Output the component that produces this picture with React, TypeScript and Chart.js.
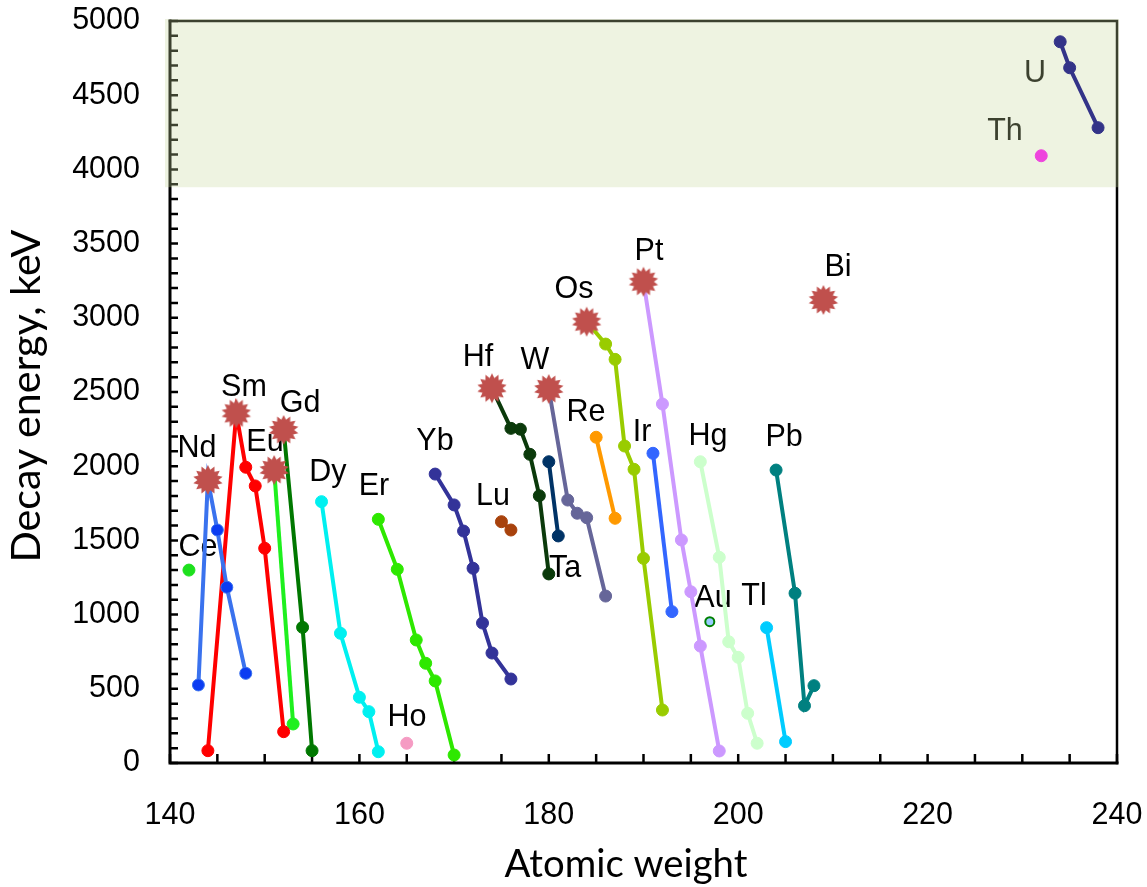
import React, { useEffect, useRef } from "react";
import { Chart, registerables } from "chart.js";

Chart.register(...registerables);

// ---- axis tick labels ----
const xTickValues = [140, 160, 180, 200, 220, 240];
const yTickValues = [0, 500, 1000, 1500, 2000, 2500, 3000, 3500, 4000, 4500, 5000];

// ---- series: [atomic weight, decay energy keV] ----
const ce = [[142, 1300]];
const nd = [[143, 526], [144, 1907], [145, 1570], [146, 1184], [148, 604]];
const sm = [[144, 83], [147, 2356], [148, 1993], [149, 1867], [150, 1447], [152, 211]];
const eu = [[151, 1974], [153, 263]];
const gd = [[152, 2244], [154, 914], [155, 83]];
const dy = [[156, 1761], [158, 874], [160, 443], [161, 346], [162, 76]];
const ho = [[165, 133]];
const er = [[162, 1642], [164, 1305], [166, 829], [167, 672], [168, 553], [170, 54]];
const yb = [[168, 1947], [170, 1739], [171, 1563], [172, 1312], [173, 943], [174, 741], [176, 566]];
const lu = [[175, 1626], [176, 1570]];
const hf = [[174, 2525], [176, 2255], [177, 2249], [178, 2080], [179, 1801], [180, 1274]];
const ta = [[180, 2030], [181, 1530]];
const w = [[180, 2520], [182, 1772], [183, 1683], [184, 1653], [186, 1125]];
const re = [[185, 2195], [187, 1649]];
const os = [[184, 2974], [186, 2823], [187, 2720], [188, 2136], [189, 1979], [190, 1379], [192, 357]];
const pt = [[190, 3243], [192, 2419], [194, 1503], [195, 1154], [196, 788], [198, 81]];
const ir = [[191, 2087], [193, 1020]];
const au = [[197, 952]];
const hg = [[196, 2030], [198, 1386], [199, 817], [200, 712], [201, 335], [202, 133]];
const tl = [[203, 912], [205, 144]];
const pb = [[204, 1974], [206, 1144], [207, 386], [208, 521]];
const th = [[232, 4092]];
const u = [[234, 4860], [235, 4685], [238, 4281]];

// highlighted isotopes (star markers)
const starPoints = [[144, 1907], [147, 2356], [151, 1974], [152, 2244], [174, 2525], [180, 2520], [184, 2974], [190, 3243], [209, 3120]];

// shaded band lower limit (keV)
const shadeFrom = 3880;

// ---- element labels ----
const labelNames = ["Ce", "Nd", "Sm", "Eu", "Gd", "Dy", "Er", "Ho", "Yb", "Lu", "Hf", "W", "Re", "Ta", "Os", "Pt", "Ir", "Hg", "Au", "Tl", "Pb", "Bi", "U", "Th"];
const labelMass = [142.96, 142.85, 147.81, 150.03, 153.73, 156.68, 161.54, 165.03, 167.98, 174.11, 172.52, 178.54, 183.93, 181.71, 182.66, 190.58, 189.84, 196.81, 197.34, 201.67, 204.84, 210.54, 231.34, 228.17];
const labelEnergy = [1456, 2123, 2534, 2163, 2426, 1961, 1867, 310, 2170, 1799, 2736, 2716, 2365, 1314, 3194, 3450, 2230, 2203, 1112, 1125, 2197, 3342, 4650, 4259];

const seriesList = [
  { name: "Ce", data: ce, color: "#1de01d" },
  { name: "Nd", data: nd, color: "#3a72ee", point: "#0b3cf2" },
  { name: "Sm", data: sm, color: "#ff0000" },
  { name: "Eu", data: eu, color: "#1ef01e" },
  { name: "Gd", data: gd, color: "#007800" },
  { name: "Dy", data: dy, color: "#00f0f0" },
  { name: "Ho", data: ho, color: "#f59bc3" },
  { name: "Er", data: er, color: "#2ee800" },
  { name: "Yb", data: yb, color: "#333399" },
  { name: "Lu", data: lu, color: "#a8420c" },
  { name: "Hf", data: hf, color: "#0b3a0b" },
  { name: "Ta", data: ta, color: "#003366" },
  { name: "W", data: w, color: "#666699" },
  { name: "Re", data: re, color: "#ff9900" },
  { name: "Os", data: os, color: "#99cc00" },
  { name: "Pt", data: pt, color: "#cc99ff" },
  { name: "Ir", data: ir, color: "#3366ff" },
  { name: "Au", data: au, color: "#008000", point: "#99ccff" },
  { name: "Hg", data: hg, color: "#ccffcc" },
  { name: "Tl", data: tl, color: "#00ccff" },
  { name: "Pb", data: pb, color: "#008080" },
  { name: "Th", data: th, color: "#ee44dd" },
  { name: "U", data: u, color: "#333388" },
];

function makeStar(): HTMLCanvasElement {
  const c = document.createElement("canvas");
  c.width = 32;
  c.height = 32;
  const g = c.getContext("2d")!;
  const n = 14;
  const ro = 15;
  const ri = 10.5;
  g.beginPath();
  for (let i = 0; i < n * 2; i++) {
    const r = i % 2 === 0 ? ro : ri;
    const a = (Math.PI * i) / n - Math.PI / 2;
    const px = 16 + r * Math.cos(a);
    const py = 16 + r * Math.sin(a);
    if (i === 0) g.moveTo(px, py);
    else g.lineTo(px, py);
  }
  g.closePath();
  g.fillStyle = "#c0504d";
  g.fill();
  return c;
}

const decorPlugin = {
  id: "decor",
  beforeDatasetsDraw(chart: any) {
    const { ctx, chartArea: a, scales } = chart;
    const xs = scales.x;
    const ys = scales.y;
    ctx.save();
    // frame
    ctx.strokeStyle = "#000";
    ctx.lineCap = "square";
    ctx.lineWidth = 3;
    ctx.beginPath();
    ctx.moveTo(a.left, a.top);
    ctx.lineTo(a.left, a.bottom);
    ctx.lineTo(a.right, a.bottom);
    ctx.stroke();
    ctx.lineWidth = 2.5;
    ctx.beginPath();
    ctx.moveTo(a.left, a.top);
    ctx.lineTo(a.right, a.top);
    ctx.lineTo(a.right, a.bottom);
    ctx.stroke();
    // inward ticks
    ctx.lineCap = "butt";
    ctx.lineWidth = 2.5;
    ctx.beginPath();
    for (let v = 0; v <= 5000; v += 100) {
      const py = ys.getPixelForValue(v);
      ctx.moveTo(a.left, py);
      ctx.lineTo(a.left + 8, py);
    }
    for (let m = 140; m <= 240; m += 5) {
      const px = xs.getPixelForValue(m);
      ctx.moveTo(px, a.bottom);
      ctx.lineTo(px, a.bottom - 9);
    }
    ctx.stroke();
    // element labels
    ctx.font = '30.5px "Liberation Sans", Arial, sans-serif';
    ctx.textAlign = "center";
    ctx.textBaseline = "middle";
    ctx.fillStyle = "#000";
    labelNames.forEach((t, i) => {
      ctx.fillText(t, xs.getPixelForValue(labelMass[i]), ys.getPixelForValue(labelEnergy[i]) + 1);
    });
    // shaded band
    const yb = ys.getPixelForValue(shadeFrom);
    ctx.fillStyle = "rgba(198,215,154,0.3)";
    ctx.fillRect(a.left - 5, a.top - 2, a.right - a.left + 7, yb - a.top + 2);
    // axis titles
    ctx.fillStyle = "#000";
    const yt = "Decay energy, keV";
    ctx.font = '40px Lato, "Open Sans", sans-serif';
    let wv = ctx.measureText(yt).width;
    const ySize = (40 * 333) / wv;
    ctx.font = `${ySize}px Lato, "Open Sans", sans-serif`;
    ctx.save();
    ctx.translate(40, 396);
    ctx.rotate(-Math.PI / 2);
    ctx.textAlign = "center";
    ctx.textBaseline = "alphabetic";
    ctx.fillText(yt, 0, 0);
    ctx.restore();
    const xt = "Atomic weight";
    ctx.font = '40px Lato, "Open Sans", sans-serif';
    wv = ctx.measureText(xt).width;
    const xSize = (40 * 243) / wv;
    ctx.font = `${xSize}px Lato, "Open Sans", sans-serif`;
    ctx.textAlign = "center";
    ctx.textBaseline = "alphabetic";
    ctx.fillText(xt, 626, 877);
    ctx.restore();
  },
};

function noOverhang(s: any) {
  s.paddingLeft = 0;
  s.paddingRight = 0;
  s.paddingTop = 0;
  s.paddingBottom = 0;
}

export default function App() {
  const ref = useRef<HTMLCanvasElement | null>(null);
  useEffect(() => {
    if (!ref.current) return;
    const star = makeStar();
    const datasets: any[] = [
      {
        label: "stars",
        data: starPoints.map(([x, y]) => ({ x, y })),
        showLine: false,
        pointStyle: star,
        pointRadius: 14,
        order: -1,
      },
    ];
    seriesList.forEach((s: any) => {
      datasets.push({
        label: s.name,
        data: s.data.map(([x, y]: number[]) => ({ x, y })),
        showLine: true,
        borderColor: s.color,
        backgroundColor: s.point || s.color,
        borderWidth: 4,
        pointRadius: s.name === "Au" ? 4.5 : 6,
        pointBorderWidth: s.name === "Au" ? 2 : 1,
        pointBackgroundColor: s.point || s.color,
        pointBorderColor: s.color,
        tension: 0,
        order: 0,
      });
    });
    const tickFont = { family: '"Liberation Sans", Arial, sans-serif', size: 30.5 };
    const chart = new Chart(ref.current, {
      type: "scatter",
      data: { datasets },
      plugins: [decorPlugin],
      options: {
        animation: false,
        responsive: false,
        events: [],
        layout: { padding: { left: 0, right: 30, top: 21, bottom: 0 } },
        plugins: { legend: { display: false }, tooltip: { enabled: false } },
        scales: {
          x: {
            type: "linear",
            min: 140,
            max: 240,
            afterBuildTicks: (s: any) => {
              s.ticks = xTickValues.map((v) => ({ value: v }));
            },
            afterFit: (s: any) => {
              s.height = 124;
              noOverhang(s);
            },
            grid: { display: false, drawTicks: false },
            border: { display: false },
            ticks: { font: tickFont, color: "#000", padding: 34, maxRotation: 0, autoSkip: false, callback: (v: any) => String(v) },
          },
          y: {
            type: "linear",
            min: 0,
            max: 5000,
            afterBuildTicks: (s: any) => {
              s.ticks = yTickValues.map((v) => ({ value: v }));
            },
            afterFit: (s: any) => {
              s.width = 170;
              noOverhang(s);
            },
            grid: { display: false, drawTicks: false },
            border: { display: false },
            ticks: { font: tickFont, color: "#000", padding: 30, autoSkip: false, callback: (v: any) => String(v) },
          },
        },
      } as any,
    });
    return () => chart.destroy();
  }, []);
  return (
    <div style={{ position: "fixed", left: 0, top: 0, width: 1147, height: 887, background: "#fff" }}>
      <canvas ref={ref} width={1147} height={887} />
    </div>
  );
}
